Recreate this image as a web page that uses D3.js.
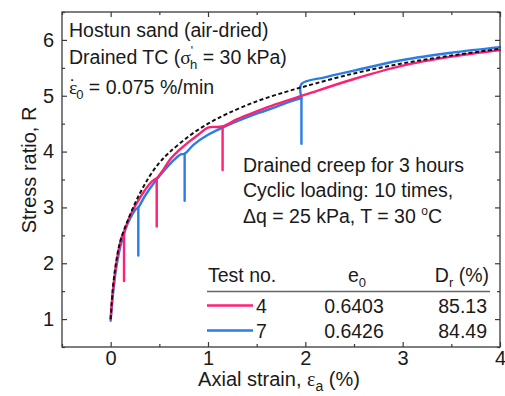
<!DOCTYPE html>
<html>
<head>
<meta charset="utf-8">
<script src="https://cdn.jsdelivr.net/npm/d3@7"></script>
<style>
  html, body { margin: 0; padding: 0; background: #fff; }
  svg { display: block; }
  text { font-family: "Liberation Sans", Arial, sans-serif; fill: #1a1a1a; }
  .greek { font-family: "Liberation Serif", "Times New Roman", serif; }
</style>
</head>
<body>
<svg id="chart" width="505" height="396"></svg>
<script>
// Test 4 loading path: axial strain (%) and stress ratio R
const test4Strain = [0, 0.01, 0.02, 0.05, 0.08, 0.11, 0.137, 0.2, 0.3, 0.4, 0.45, 0.473, 0.55, 0.62, 0.7, 0.8, 0.9, 1.0, 1.15, 1.3, 1.5, 1.7, 2.0, 2.5, 3.0, 3.5, 4.0];
const test4R      = [1.0, 1.25, 1.45, 1.9, 2.22, 2.45, 2.56, 2.85, 3.17, 3.42, 3.5, 3.52, 3.7, 3.88, 4.02, 4.17, 4.3, 4.43, 4.45, 4.58, 4.72, 4.85, 5.02, 5.3, 5.54, 5.7, 5.82];

// Test 7 loading path (a repeated strain marks the jump after the last cyclic stage)
const test7Strain = [0, 0.01, 0.03, 0.06, 0.1, 0.15, 0.2, 0.25, 0.284, 0.35, 0.45, 0.55, 0.65, 0.72, 0.76, 0.85, 1.0, 1.2, 1.5, 1.7, 1.85, 1.96, 1.96, 2.2, 2.5, 3.0, 3.5, 4.0];
const test7R      = [0.97, 1.2, 1.55, 1.95, 2.3, 2.6, 2.8, 2.95, 3.0, 3.2, 3.45, 3.66, 3.85, 3.95, 3.96, 4.12, 4.3, 4.47, 4.68, 4.8, 4.9, 4.96, 5.21, 5.33, 5.45, 5.64, 5.77, 5.87];

// Creep + cyclic loading stages: strain, R at start, lowest R during cycling
const test4StageStrain = [0.137, 0.473, 1.15];
const test4StagePeak   = [2.56, 3.52, 4.45];
const test4StageMin    = [1.68, 2.66, 3.67];
const test7StageStrain = [0.284, 0.76, 1.96];
const test7StagePeak   = [3.0, 3.96, 4.96];
const test7StageMin    = [2.14, 3.12, 4.14];

// Reference monotonic drained TC test (dashed)
const refStrain = [0, 0.02, 0.05, 0.1, 0.2, 0.3, 0.4, 0.5, 0.6, 0.8, 1.0, 1.2, 1.5, 1.8, 2.0, 2.5, 3.0, 3.5, 4.0];
const refR      = [1.0, 1.5, 1.95, 2.4, 2.87, 3.25, 3.56, 3.8, 3.98, 4.27, 4.5, 4.68, 4.9, 5.07, 5.17, 5.4, 5.58, 5.72, 5.84];

// Axis ticks
const xMajorTicks = [0, 1, 2, 3, 4];
const xMinorTicks = [-0.5, 0.5, 1.5, 2.5, 3.5];
const yMajorTicks = [1, 2, 3, 4, 5, 6];
const yMinorTicks = [0.5, 1.5, 2.5, 3.5, 4.5, 5.5, 6.5];

// Legend table
const testNos = ["4", "7"];
const voidRatios = ["0.6403", "0.6426"];
const relDensities = ["85.13", "84.49"];
const testColors = ["#ff1f74", "#2b7de6"];

const svg = d3.select("#chart");
const plotLeft = 62, plotRight = 500, plotTop = 12, plotBottom = 347;

const x = d3.scaleLinear().domain([-0.5, 4]).range([plotLeft, plotRight]);
const y = d3.scaleLinear().domain([0.5, 6.5]).range([plotBottom, plotTop]);

const fontAxis = 20;
const axisColor = "#3a3a3a";

// axes (ticks pointing inwards on all four sides)
function styleAxis(g) {
  g.select(".domain").remove();
  g.selectAll(".tick line").attr("stroke", axisColor).attr("stroke-width", 1.2);
  g.selectAll("text").attr("font-size", fontAxis).attr("fill", "#1a1a1a")
    .attr("font-family", '"Liberation Sans", Arial, sans-serif');
}
svg.append("g").attr("transform", `translate(0,${plotBottom})`)
  .call(d3.axisBottom(x).tickValues(xMajorTicks).tickSize(-5).tickPadding(4).tickFormat(d3.format("d")))
  .call(styleAxis);
svg.append("g").attr("transform", `translate(0,${plotBottom})`)
  .call(d3.axisBottom(x).tickValues(xMinorTicks).tickSize(-3).tickFormat(""))
  .call(styleAxis);
svg.append("g").attr("transform", `translate(0,${plotTop})`)
  .call(d3.axisTop(x).tickValues(xMajorTicks).tickSize(-5).tickFormat(""))
  .call(styleAxis);
svg.append("g").attr("transform", `translate(0,${plotTop})`)
  .call(d3.axisTop(x).tickValues(xMinorTicks).tickSize(-3).tickFormat(""))
  .call(styleAxis);
svg.append("g").attr("transform", `translate(${plotLeft},0)`)
  .call(d3.axisLeft(y).tickValues(yMajorTicks).tickSize(-5).tickPadding(8).tickFormat(d3.format("d")))
  .call(styleAxis);
svg.append("g").attr("transform", `translate(${plotLeft},0)`)
  .call(d3.axisLeft(y).tickValues(yMinorTicks).tickSize(-3).tickFormat(""))
  .call(styleAxis);
svg.append("g").attr("transform", `translate(${plotRight},0)`)
  .call(d3.axisRight(y).tickValues(yMajorTicks).tickSize(-5).tickFormat(""))
  .call(styleAxis);
svg.append("g").attr("transform", `translate(${plotRight},0)`)
  .call(d3.axisRight(y).tickValues(yMinorTicks).tickSize(-3).tickFormat(""))
  .call(styleAxis);

// curves
const line = d3.line().x(d => x(d[0])).y(d => y(d[1])).curve(d3.curveCatmullRom.alpha(0.5));
const zip = (a, b) => a.map((v, i) => [v, b[i]]);
const plot = svg.append("g");

// split a loading path into smooth pieces wherever the strain repeats (vertical jump)
function pieces(strain, r) {
  const out = [[]];
  strain.forEach((s, i) => {
    if (i > 0 && s === strain[i - 1]) {
      out[out.length - 1].push([s, r[i - 1]]);
      out.push([[s, r[i - 1]]]);
    }
    out[out.length - 1].push([s, r[i]]);
  });
  return out;
}

function drawTest(strain, r, stStrain, stPeak, stMin, color) {
  pieces(strain, r).forEach(p => {
    plot.append("path").datum(p).attr("d", line)
      .attr("fill", "none").attr("stroke", color).attr("stroke-width", 2.4)
      .attr("stroke-linejoin", "round").attr("stroke-linecap", "round");
  });
  plot.selectAll(null).data(stStrain.map((s, i) => ({ s, p: stPeak[i], m: stMin[i] })))
    .enter().append("line")
    .attr("x1", d => x(d.s)).attr("x2", d => x(d.s))
    .attr("y1", d => y(d.p)).attr("y2", d => y(d.m))
    .attr("stroke", color).attr("stroke-width", 2.4).attr("stroke-linecap", "round");
}
drawTest(test7Strain, test7R, test7StageStrain, test7StagePeak, test7StageMin, testColors[1]);
drawTest(test4Strain, test4R, test4StageStrain, test4StagePeak, test4StageMin, testColors[0]);

plot.append("path").datum(zip(refStrain, refR)).attr("d", line)
  .attr("fill", "none").attr("stroke", "#111").attr("stroke-width", 2)
  .attr("stroke-dasharray", "4,2.5");

// frame
svg.append("rect").attr("x", plotLeft).attr("y", plotTop)
  .attr("width", plotRight - plotLeft).attr("height", plotBottom - plotTop)
  .attr("fill", "none").attr("stroke", axisColor).attr("stroke-width", 1.3);

// axis titles
const xt = svg.append("text").attr("x", (plotLeft + plotRight) / 2 - 2).attr("y", 386)
  .attr("text-anchor", "middle").attr("font-size", fontAxis);
xt.append("tspan").text("Axial strain, ");
xt.append("tspan").attr("class", "greek").text("ε");
xt.append("tspan").attr("font-size", 14).attr("dy", 5).text("a");
xt.append("tspan").attr("dy", -5).text(" (%)");

svg.append("text").attr("transform", "translate(36,170) rotate(-90)")
  .attr("text-anchor", "middle").attr("font-size", fontAxis).text("Stress ratio, R");

// test condition notes
const fs = 19.5;
svg.append("text").attr("x", 69).attr("y", 37).attr("font-size", fs).text("Hostun sand (air-dried)");
const l2 = svg.append("text").attr("x", 69).attr("y", 64).attr("font-size", fs);
l2.append("tspan").text("Drained TC (");
l2.append("tspan").attr("class", "greek").text("σ");
l2.append("tspan").attr("font-size", 12).attr("dy", -9).attr("dx", 0).text("'");
l2.append("tspan").attr("font-size", 13).attr("dy", 14).attr("dx", -3).text("h");
l2.append("tspan").attr("dy", -5).text(" = 30 kPa)");

const l3 = svg.append("text").attr("x", 69).attr("y", 94).attr("font-size", fs);
l3.append("tspan").attr("class", "greek").text("ε");
l3.append("tspan").attr("dx", -7.5).text("˙");
l3.append("tspan").attr("font-size", 13).attr("dx", 0).attr("dy", 5).text("0");
l3.append("tspan").attr("dy", -5).text(" = 0.075 %/min");

svg.append("text").attr("x", 243).attr("y", 172).attr("font-size", fs)
  .text("Drained creep for 3 hours");
svg.append("text").attr("x", 243).attr("y", 197).attr("font-size", fs)
  .text("Cyclic loading: 10 times,");
const n3 = svg.append("text").attr("x", 243).attr("y", 223).attr("font-size", fs);
n3.append("tspan").text("Δq = 25 kPa, T = 30 ");
n3.append("tspan").attr("font-size", 12).attr("dy", -8).text("o");
n3.append("tspan").attr("dy", 8).text("C");

// legend table
const colX = 357, rightX = 489;
svg.append("text").attr("x", 208).attr("y", 282).attr("font-size", fs).text("Test no.");
const eh = svg.append("text").attr("x", colX).attr("y", 282).attr("font-size", fs).attr("text-anchor", "middle");
eh.append("tspan").text("e");
eh.append("tspan").attr("font-size", 13).attr("dy", 5).text("0");
const dh = svg.append("text").attr("x", rightX).attr("y", 282).attr("font-size", fs).attr("text-anchor", "end");
dh.append("tspan").text("D");
dh.append("tspan").attr("font-size", 13).attr("dy", 5).text("r");
dh.append("tspan").attr("dy", -5).text(" (%)");
svg.append("line").attr("x1", 207).attr("x2", 490).attr("y1", 291.5).attr("y2", 291.5)
  .attr("stroke", "#666").attr("stroke-width", 1.5);

const rowBase = [313, 338];
testNos.forEach((t, i) => {
  const yb = rowBase[i];
  svg.append("line").attr("x1", 207).attr("x2", 253).attr("y1", yb - 7.5).attr("y2", yb - 7.5)
    .attr("stroke", testColors[i]).attr("stroke-width", 2.4);
  svg.append("text").attr("x", 256).attr("y", yb).attr("font-size", fs).text(t);
  svg.append("text").attr("x", colX - 3).attr("y", yb).attr("font-size", fs).attr("text-anchor", "middle").text(voidRatios[i]);
  svg.append("text").attr("x", rightX - 2).attr("y", yb).attr("font-size", fs).attr("text-anchor", "end").text(relDensities[i]);
});
</script>
</body>
</html>
